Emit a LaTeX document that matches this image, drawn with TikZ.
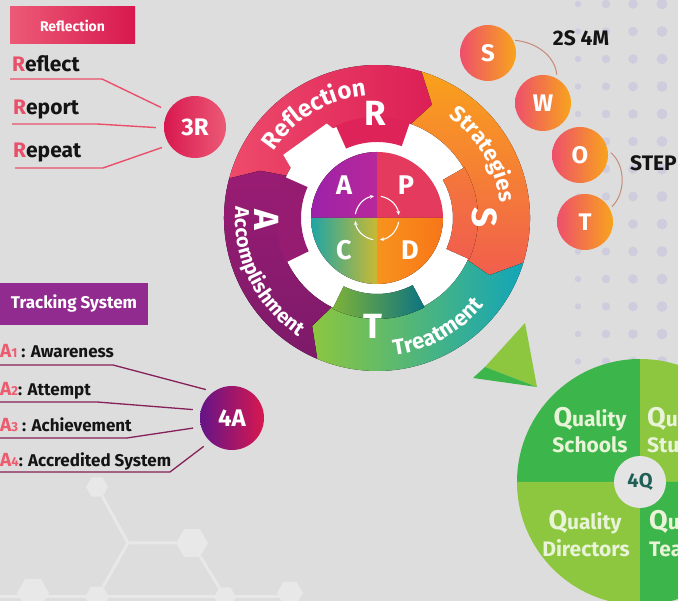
\documentclass[tikz,border=0pt]{standalone}
\usepackage{fontspec}
\setmainfont{Fira Sans}
\usetikzlibrary{decorations.text,shapes.geometric,arrows.meta,calc}
\definecolor{bgc}{HTML}{DDDDDD}
\definecolor{dotc}{HTML}{CFCCDD}
\definecolor{hexc}{HTML}{E8E8E8}
\definecolor{pinkr}{HTML}{E8506A}
\definecolor{apink}{HTML}{EE5A6E}
\definecolor{maroonl}{HTML}{862058}
\definecolor{swl}{HTML}{C98A78}
\definecolor{segRa}{HTML}{EE4A6B}
\definecolor{segRb}{HTML}{DC1F56}
\definecolor{segSa}{HTML}{F9A11B}
\definecolor{segSb}{HTML}{F15E4E}
\definecolor{segTa}{HTML}{8CC63F}
\definecolor{segTb}{HTML}{12A5B8}
\definecolor{segAa}{HTML}{7D1A6A}
\definecolor{segAb}{HTML}{991C73}
\definecolor{pdA}{HTML}{B8289A}
\definecolor{pdP}{HTML}{E33A5D}
\definecolor{pdCa}{HTML}{1FA5A5}
\definecolor{pdCb}{HTML}{C9B933}
\definecolor{pdD}{HTML}{F7931E}
\definecolor{swa}{HTML}{EE4F6C}
\definecolor{swb}{HTML}{F8A41C}
\definecolor{qdark}{HTML}{3CB54A}
\definecolor{qlight}{HTML}{8DC63F}
\definecolor{qcen}{HTML}{E4E4E4}
\definecolor{qtxt}{HTML}{1F5F56}
\definecolor{qwhite}{HTML}{E8F3D8}
\definecolor{trk}{HTML}{922B90}
\definecolor{refa}{HTML}{EC5A76}
\definecolor{refb}{HTML}{D8184F}
\begin{document}
\begin{tikzpicture}[x=1pt,y=1pt,
  lbl/.style={anchor=base west, inner sep=0pt, text=black!92, font=\bfseries\fontsize{21}{21}\selectfont},
  albl/.style={anchor=base west, inner sep=0pt, text=black!92, font=\bfseries\fontsize{17}{17}\selectfont},
  rline/.style={draw=pinkr, line width=1.4pt, shorten >=8pt},
  aline/.style={draw=maroonl, line width=1.3pt, shorten >=8pt},
  swline/.style={draw=swl, line width=1pt},
  swotc/.style={circle, minimum size=56pt, inner sep=0pt, left color=swa, right color=swb, text=white, font=\bfseries\fontsize{24}{24}\selectfont},
  hexn/.style={regular polygon, regular polygon sides=6, fill=hexc, inner sep=0pt},
  hexl/.style={draw=hexc, line width=3pt},
  big/.style={text=white, font=\bfseries\fontsize{35}{35}\selectfont, inner sep=0pt},
  pdl/.style={text=white, font=\bfseries\fontsize{27}{27}\selectfont, inner sep=0pt},
  qtext/.style={text=qwhite, inner sep=0pt, font=\bfseries\fontsize{21}{21}\selectfont},
  cyc/.style={draw=white, line width=1.1pt, -{Stealth[length=4pt,width=4pt]}}
]
\useasboundingbox (0,0) rectangle (678,601);
\clip (0,0) rectangle (678,601);
\fill[bgc] (0,0) rectangle (678,601);

% dot grid
\foreach \px/\rr in {578/3.2,606/4.2,633/4.8,662/5.4}{
  \foreach \py in {4,31.5,...,365}{\fill[dotc] (\px,{601-\py}) circle[radius=\rr];}}

% hexagon pattern
\node[hexn, minimum size=22pt] (h1) at (97,114) {};
\coordinate (hj) at (128,58);
\node[hexn, minimum size=32pt] (h2) at (192,58) {};
\node[hexn, minimum size=32pt] (h3) at (33,8) {};
\node[hexn, minimum size=24pt] (h4) at (97,4) {};
\node[hexn, minimum size=22pt] (h5) at (225,4) {};
\node[hexn, minimum size=26pt] (h6) at (290,8) {};
\coordinate (hb0) at (0,4);
\coordinate (hb1) at (300,4);
\draw[hexl] (h1) -- (hj) -- (h2) -- (h5);
\draw[hexl] (hj) -- (h4);
\draw[hexl] (hb0) -- (hb1);

% Reflection header
\node[minimum width=125pt, minimum height=37pt, inner sep=0pt, left color=refa, right color=refb, text=white, font=\bfseries\fontsize{14}{14}\selectfont] (hdr) at (72.5,575.5) {Reflection};

% 3R
\node[circle, minimum size=62pt, inner sep=0pt, left color=refb, right color=refa, text=white, font=\bfseries\fontsize{24}{24}\selectfont] (r3) at (195,474) {3R};
\node[lbl] (t1) at (12,529) {\textcolor{pinkr}{R}eflect};
\node[lbl] (t2) at (13,486) {\textcolor{pinkr}{R}eport};
\node[lbl] (t3) at (13,443) {\textcolor{pinkr}{R}epeat};
\coordinate (u1a) at (10,522); \coordinate (u1b) at (102,522);
\coordinate (u2a) at (12,477); \coordinate (u2b) at (97,477);
\coordinate (u3a) at (15,433); \coordinate (u3b) at (103,433);
\draw[rline] (u1a) -- (u1b) -- (r3.149);
\draw[rline] (u2a) -- (u2b) -- (r3.182);
\draw[rline] (u3a) -- (u3b) -- (r3.215);

% Tracking system
\node[minimum width=148pt, minimum height=42pt, inner sep=0pt, fill=trk, text=white, font=\bfseries\fontsize{17}{17}\selectfont] (trk) at (74,297) {Tracking System};
\node[circle, minimum size=64pt, inner sep=0pt, left color=segAa!80!blue, right color=refb, text=white, font=\bfseries\fontsize{24}{24}\selectfont] (a4) at (232,183) {4A};
\node[albl] (a1t) at (0,243) {\textcolor{apink}{{\fontsize{19}{19}\selectfont A}{\fontsize{13}{13}\selectfont 1}} : Awareness};
\node[albl] (a2t) at (0,205) {\textcolor{apink}{{\fontsize{19}{19}\selectfont A}{\fontsize{13}{13}\selectfont 2}}: Attempt};
\node[albl] (a3t) at (0,169) {\textcolor{apink}{{\fontsize{19}{19}\selectfont A}{\fontsize{13}{13}\selectfont 3}} : Achievement};
\node[albl] (a4t) at (0,134) {\textcolor{apink}{{\fontsize{19}{19}\selectfont A}{\fontsize{13}{13}\selectfont 4}}: Accredited System};
\coordinate (v1a) at (0,236); \coordinate (v1b) at (113,236);
\coordinate (v2a) at (0,199); \coordinate (v2b) at (97,199);
\coordinate (v3a) at (0,163); \coordinate (v3b) at (127,163);
\coordinate (v4a) at (0,129); \coordinate (v4b) at (170,129);
\draw[aline] (v1a) -- (v1b) -- (a4.125);
\draw[aline] (v2a) -- (v2b) -- (a4.166);
\draw[aline] (v3a) -- (v3b) -- (a4.196);
\draw[aline] (v4a) -- (v4b) -- (a4.227);

% main wheel
\begin{scope}[shift={(377,383)}]
\fill[white] (0,0) circle[radius=101];
\fill[left color=segRa, right color=segRb] (165:153) arc[start angle=165,end angle=73,radius=153] -- (64:126) -- (70:100) arc[start angle=70,end angle=155,radius=100] -- (158:126) -- cycle;
\fill[top color=segSa, bottom color=segSb] (73:153) arc[start angle=73,end angle=-17,radius=153] -- (-27:126) -- (-25:100) arc[start angle=-25,end angle=70,radius=100] -- (64:126) -- cycle;
\fill[left color=segTa, right color=segTb] (-17:153) arc[start angle=-17,end angle=-113,radius=153] -- (-121:126) -- (-117:100) arc[start angle=-117,end angle=-25,radius=100] -- (-27:126) -- cycle;
\fill[top color=segAb, bottom color=segAa] (-113:153) arc[start angle=-113,end angle=-195,radius=153] -- (158:126) -- (155:100) arc[start angle=155,end angle=243,radius=100] -- (-121:126) -- cycle;
% white tooth at top left
\fill[white] (150:99) -- (146:113) -- (118:107) -- (116:99) -- cycle;
% tabs
\fill[segRb!90!segRa] (114:76) -- (114:101) arc[start angle=114,end angle=71,radius=101] -- (71:76) arc[start angle=71,end angle=114,radius=76] -- cycle;
\fill[top color=segSb!60!segSa, bottom color=segSb] (30:76) -- (30:101) arc[start angle=30,end angle=-24,radius=101] -- (-24:76) arc[start angle=-24,end angle=30,radius=76] -- cycle;
\fill[left color=segTa!90!black, right color=segTb!70!black] (-62:76) -- (-62:101) arc[start angle=-62,end angle=-116,radius=101] -- (-116:76) arc[start angle=-116,end angle=-62,radius=76] -- cycle;
\fill[segAb!90!segAa] (206:76) -- (206:101) arc[start angle=206,end angle=156,radius=101] -- (156:76) arc[start angle=156,end angle=206,radius=76] -- cycle;
% arc texts
\path[decorate, decoration={text along path, text={|\bfseries\fontsize{24}{24}\selectfont|Reflection}, text align=center, text color=white}] (170:123) arc[start angle=170,end angle=72,radius=123];
\path[decorate, decoration={text along path, text={|\bfseries\fontsize{22}{22}\selectfont|Strategies}, text align=center, text color=white}] (71:124) arc[start angle=71,end angle=-9,radius=124];
\path[decorate, decoration={text along path, text={|\bfseries\fontsize{22}{22}\selectfont|Treatment}, text align=center, text color=white}] (-101:138) arc[start angle=-101,end angle=-21,radius=138];
\path[decorate, decoration={text along path, text={|\bfseries\fontsize{20}{20}\selectfont|Accomplishment}, text align=center, text color=white}] (164:142) arc[start angle=164,end angle=248,radius=142];
% big letters
\node[big] (bR) at (-2,105) {R};
\node[big, rotate=-90] (bS) at (108,0) {S};
\node[big] (bT) at (-4,-108) {T};
\node[big, rotate=-90] (bA) at (-110,-2) {A};
% PDCA
\fill[left color=pdA!85!blue, right color=pdA] (0,0) -- (90:66) arc[start angle=90,end angle=180,radius=66] -- cycle;
\fill[pdP] (0,0) -- (0:66) arc[start angle=0,end angle=90,radius=66] -- cycle;
\fill[left color=pdCa, right color=pdCb] (0,0) -- (180:66) arc[start angle=180,end angle=270,radius=66] -- cycle;
\fill[left color=pdD, right color=pdD!80!red] (0,0) -- (270:66) arc[start angle=270,end angle=360,radius=66] -- cycle;
\node[pdl] (pA) at (-33,33) {A};
\node[pdl] (pP) at (29,33) {P};
\node[pdl] (pC) at (-33,-32) {C};
\node[pdl] (pD) at (33,-32) {D};
\draw[cyc] (170:22) arc[start angle=170,end angle=98,radius=22];
\draw[cyc] (80:22) arc[start angle=80,end angle=8,radius=22];
\draw[cyc] (-10:22) arc[start angle=-10,end angle=-82,radius=22];
\draw[cyc] (-100:22) arc[start angle=-100,end angle=-172,radius=22];
\end{scope}

% SWOT
\node[swotc] (sS) at (488,548) {S};
\node[swotc] (sW) at (543,498) {W};
\node[swotc] (sO) at (580,446) {O};
\node[swotc] (sT) at (585,379) {T};
\node[inner sep=0pt, text=black!92, font=\bfseries\fontsize{21}{21}\selectfont] (m2s) at (581,563) {2S 4M};
\node[anchor=west, inner sep=0pt, text=black!92, font=\bfseries\fontsize{21}{21}\selectfont] (step) at (630,438) {STEP};
\draw[swline, shorten <=2pt, shorten >=4pt] (sS.27) to[out=-5, in=95] (sW.60);
\draw[swline, shorten <=4pt, shorten >=3pt] (sO.10) to[out=-40, in=45] (sT.28);

% triangle
\fill[qlight] (525,278) -- (485,234) -- (537,214) -- cycle;
\fill[qdark] (485,234) -- (473,223) -- (537,214) -- cycle;

% 4Q
\begin{scope}[shift={(640,119)}]
\fill[qdark] (0,0) -- (180:123) arc[start angle=180,end angle=90,radius=123] -- cycle;
\fill[qlight] (0,0) -- (90:123) arc[start angle=90,end angle=0,radius=123] -- cycle;
\fill[qlight] (0,0) -- (180:123) arc[start angle=180,end angle=270,radius=123] -- cycle;
\fill[qdark] (0,0) -- (270:123) arc[start angle=270,end angle=360,radius=123] -- cycle;
\end{scope}
\node[circle, fill=qcen, minimum size=52pt, inner sep=0pt, text=qtxt, font=\bfseries\fontsize{20}{20}\selectfont] (q4) at (640,119) {4Q};
\node[qtext, anchor=base] (q1a) at (590,174) {{\fontsize{27}{27}\selectfont Q}uality};
\node[qtext, anchor=base] (q1b) at (590,148) {Schools};
\node[qtext, anchor=base west] (q2a) at (647,174) {{\fontsize{27}{27}\selectfont Q}uality};
\node[qtext, anchor=base west] (q2b) at (647,148) {Students};
\node[qtext, anchor=base] (q3a) at (585,71) {{\fontsize{27}{27}\selectfont Q}uality};
\node[qtext, anchor=base] (q3b) at (586,44) {Directors};
\node[qtext, anchor=base west] (q4a) at (649,71) {{\fontsize{27}{27}\selectfont Q}uality};
\node[qtext, anchor=base west] (q4b) at (649,44) {Teachers};
\end{tikzpicture}
\end{document}
